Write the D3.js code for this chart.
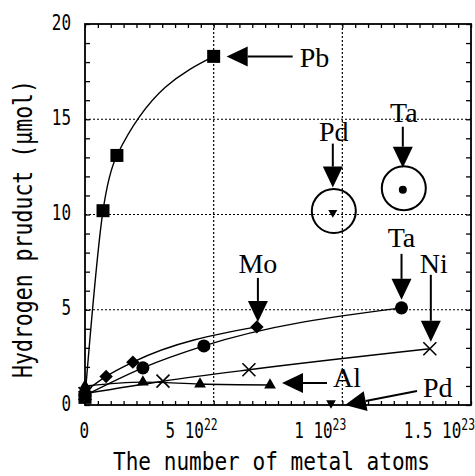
<!DOCTYPE html>
<html>
<head>
<meta charset="utf-8">
<script src="https://cdn.jsdelivr.net/npm/d3@7"></script>
<style>
  body { margin: 0; background: #fff; }
</style>
</head>
<body>
<div id="chart"></div>
<script>
// values
const pbX = [0, 7.0e21, 1.24e22, 5.0e22];
const pbY = [0.4, 10.2, 13.1, 18.3];
const moX = [0, 8.2e21, 1.86e22, 6.68e22];
const moY = [0.7, 1.5, 2.25, 4.1];
const taX = [0, 2.25e22, 4.62e22, 1.23e23];
const taY = [0.5, 1.95, 3.1, 5.1];
const niX = [0, 3.03e22, 6.37e22, 1.34e23];
const niY = [0.6, 1.25, 1.85, 2.95];
const alX = [0, 2.25e22, 4.47e22, 7.19e22];
const alY = [1.0, 1.2, 1.1, 1.05];
const pdX = [0, 9.56e22];
const pdY = [0.3, 0.1];
// the two circled points
const circPdX = [9.63e22], circPdY = [10.1];
const circTaX = [1.235e23], circTaY = [11.3];

const xTicks = [0, 5e22, 1e23, 1.5e23];
const xTickBase = ['0', '5 10', '1 10', '1.5 10'];
const xTickExp = ['', '22', '23', '23'];
const yTicks = [0, 5, 10, 15, 20];

const w = 475, h = 476;
const x = d3.scaleLinear().domain([0, 1.5e23]).range([85, 471]);
const y = d3.scaleLinear().domain([0, 20]).range([405, 24]);

const svg = d3.select('#chart').append('svg').attr('width', w).attr('height', h);

const zip = (xs, ys) => xs.map((v, i) => [v, ys[i]]);

// dotted grid
svg.append('g').selectAll('line').data([5e22, 1e23]).enter().append('line')
  .attr('x1', d => x(d)).attr('x2', d => x(d)).attr('y1', y(20)).attr('y2', y(0))
  .attr('stroke', '#000').attr('stroke-width', 1.2).attr('stroke-dasharray', '2,2');
svg.append('g').selectAll('line').data([5, 10, 15]).enter().append('line')
  .attr('x1', x(0)).attr('x2', x(1.5e23)).attr('y1', d => y(d)).attr('y2', d => y(d))
  .attr('stroke', '#000').attr('stroke-width', 1.2).attr('stroke-dasharray', '2,2');

// inward minor ticks on all sides
const xMinor = d3.range(31).map(i => i * 5e21);
const yMinor = d3.range(21);
const noDomain = g => g.select('.domain').remove();
svg.append('g').attr('transform', `translate(0,${y(0)})`)
  .call(d3.axisBottom(x).tickValues(xMinor).tickSize(-4).tickFormat('')).call(noDomain);
svg.append('g').attr('transform', `translate(0,${y(20)})`)
  .call(d3.axisTop(x).tickValues(xMinor).tickSize(-4).tickFormat('')).call(noDomain);
svg.append('g').attr('transform', `translate(${x(0)},0)`)
  .call(d3.axisLeft(y).tickValues(yMinor).tickSize(-5).tickFormat('')).call(noDomain);
svg.append('g').attr('transform', `translate(${x(1.5e23)},0)`)
  .call(d3.axisRight(y).tickValues(yMinor).tickSize(-5).tickFormat('')).call(noDomain);
svg.selectAll('.tick line').attr('stroke', '#000').attr('stroke-width', 1.3);

// frame
svg.append('rect').attr('x', x(0)).attr('y', y(20))
  .attr('width', x(1.5e23) - x(0)).attr('height', y(0) - y(20))
  .attr('fill', 'none').attr('stroke', '#000').attr('stroke-width', 1.8);

// tick labels
const monoFont = '"DejaVu Sans Mono", "Liberation Mono", monospace';
svg.append('g').selectAll('text').data(yTicks).enter().append('text')
  .attr('transform', d => `translate(71,${y(d) + 5.5}) scale(0.76,1)`)
  .attr('text-anchor', 'end').attr('font-family', monoFont).attr('font-size', 21)
  .text(d => d);

const xl = svg.append('g').selectAll('text').data(xTicks).enter().append('text')
  .attr('transform', d => `translate(${x(d) + 4},438) scale(0.76,1)`)
  .attr('text-anchor', 'end').attr('font-family', monoFont).attr('font-size', 21);
xl.append('tspan').text((d, i) => xTickBase[i]);
xl.append('tspan').attr('font-size', 15).attr('dy', -8).text((d, i) => xTickExp[i]);

// axis titles
svg.append('text').attr('x', 113).attr('y', 470)
  .attr('textLength', 317).attr('lengthAdjust', 'spacingAndGlyphs')
  .attr('font-family', monoFont).attr('font-size', 24)
  .text('The number of metal atoms');
svg.append('text').attr('transform', 'translate(32,378) rotate(-90)')
  .attr('textLength', 298).attr('lengthAdjust', 'spacingAndGlyphs')
  .attr('font-family', monoFont).attr('font-size', 26)
  .text('Hydrogen pruduct (\u03bcmol)');

// fitted curves
const line = d3.line().x(d => x(d[0])).y(d => y(d[1])).curve(d3.curveMonotoneX);
[zip(pbX, pbY), zip(moX, moY), zip(taX, taY), zip(niX, niY), zip(alX, alY)].forEach(s => {
  svg.append('path').datum(s).attr('d', line)
    .attr('fill', 'none').attr('stroke', '#000').attr('stroke-width', 1.4);
});

// markers
const marks = svg.append('g');
function symbols(data, type, size, rot) {
  marks.selectAll(null).data(data).enter().append('path')
    .attr('d', d3.symbol().type(type).size(size))
    .attr('transform', d => `translate(${x(d[0])},${y(d[1])}) rotate(${rot || 0})`)
    .attr('fill', '#000');
}
symbols(zip(pbX, pbY), d3.symbolSquare, 169);
symbols(zip(moX, moY), d3.symbolSquare, 90, 45);
symbols(zip(taX, taY), d3.symbolCircle, 135);
symbols(zip(alX, alY), d3.symbolTriangle, 60);
symbols(zip(pdX, pdY), d3.symbolTriangle, 40, 180);
symbols(zip(circPdX, circPdY), d3.symbolTriangle, 35, 180);
symbols(zip(circTaX, circTaY), d3.symbolCircle, 50);
marks.selectAll(null).data(zip(niX, niY)).enter().append('path')
  .attr('d', d => {
    const cx = x(d[0]), cy = y(d[1]), r = 6.5;
    return `M${cx - r},${cy - r}L${cx + r},${cy + r}M${cx - r},${cy + r}L${cx + r},${cy - r}`;
  })
  .attr('stroke', '#000').attr('stroke-width', 1.6).attr('fill', 'none');

// circles round the two separate points
[[circPdX[0], circPdY[0]], [circTaX[0], circTaY[0]]].forEach(p => {
  svg.append('circle').attr('cx', x(p[0]) + 1).attr('cy', y(p[1]) - 1.5).attr('r', 22)
    .attr('fill', 'none').attr('stroke', '#000').attr('stroke-width', 2);
});

// arrows with labels
function arrow(tx, ty, fx, fy) {
  const len = Math.hypot(tx - fx, ty - fy), ux = (tx - fx) / len, uy = (ty - fy) / len;
  const hl = 21, hw = 10;
  const bx = tx - ux * hl, by = ty - uy * hl;
  svg.append('line').attr('x1', fx).attr('y1', fy).attr('x2', bx).attr('y2', by)
    .attr('stroke', '#000').attr('stroke-width', 2);
  svg.append('path')
    .attr('d', `M${tx},${ty}L${bx - uy * hw},${by + ux * hw}L${bx + uy * hw},${by - ux * hw}Z`)
    .attr('fill', '#000');
}
function label(t, lx, ly, anchor) {
  svg.append('text').attr('x', lx).attr('y', ly).attr('text-anchor', anchor || 'middle')
    .attr('font-family', '"Liberation Serif", "Times New Roman", serif').attr('font-size', 28)
    .text(t);
}
const serifs = [
  // name, anchor point, tip offset, tail offset from tip, label position from tip
  { t: 'Pb', px: pbX[3], py: pbY[3], dx: 13, dy: 0, tx: 66, ty: 0, lx: 73, ly: 11, a: 'start' },
  { t: 'Pd', px: circPdX[0], py: circPdY[0], dx: 0, dy: -25, tx: 0, ty: -44, lx: 1, ly: -47 },
  { t: 'Ta', px: circTaX[0], py: circTaY[0], dx: 0, dy: -22, tx: 0, ty: -41, lx: 1, ly: -46 },
  { t: 'Mo', px: moX[3], py: moY[3], dx: 1, dy: -5, tx: 0, ty: -44, lx: 0, ly: -49 },
  { t: 'Ta', px: taX[3], py: taY[3], dx: 0, dy: -8, tx: 0, ty: -46, lx: 0, ly: -53 },
  { t: 'Ni', px: niX[3], py: niY[3], dx: 1, dy: -7, tx: 0, ty: -67, lx: 3, ly: -69 },
  { t: 'Al', px: alX[3], py: alY[3], dx: 12, dy: -2, tx: 45, ty: 0, lx: 51, ly: 4, a: 'start' },
  { t: 'Pd', px: pdX[1], py: pdY[1], dx: 14, dy: 2, tx: 72, ty: -14, lx: 78, ly: -8, a: 'start' }
];
serifs.forEach(s => {
  const tx = x(s.px) + s.dx, ty = y(s.py) + s.dy;
  arrow(tx, ty, tx + s.tx, ty + s.ty);
  label(s.t, tx + s.lx, ty + s.ly, s.a);
});
</script>
</body>
</html>
